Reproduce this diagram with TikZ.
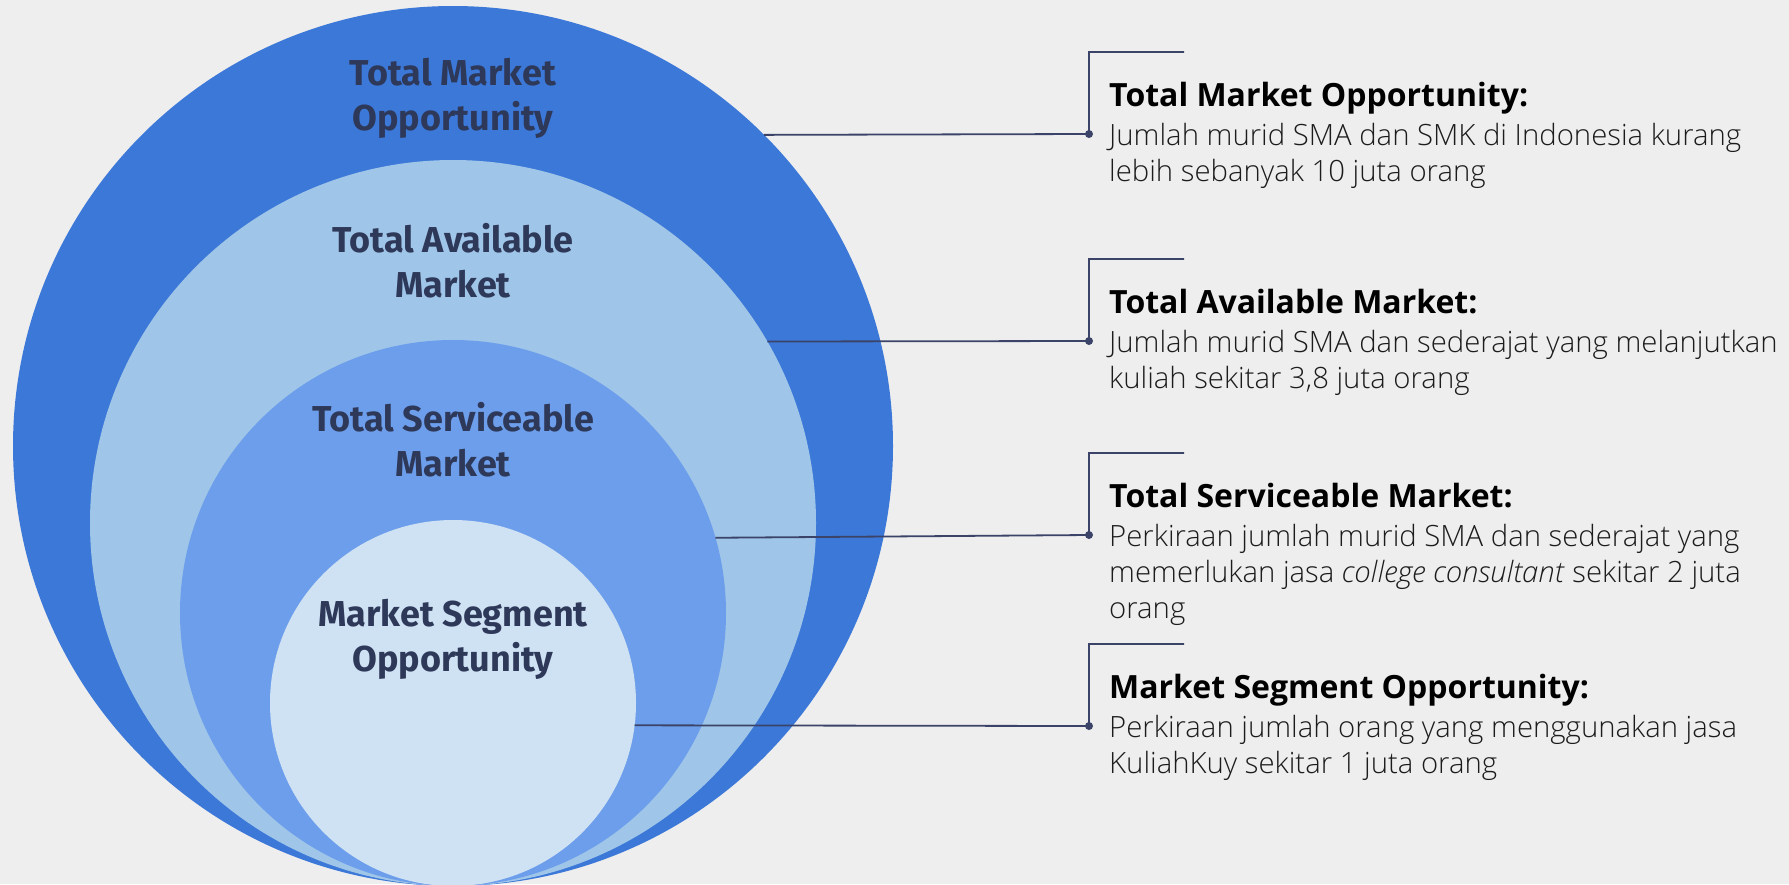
\documentclass[tikz,border=0pt]{standalone}
\usepackage{fontspec}
\setmainfont{Open Sans}
\newfontfamily\labfont{Fira Sans}
\newfontfamily\bodyfont{Open Sans Light}
\definecolor{bg}{HTML}{EEEEEE}
\definecolor{cA}{HTML}{3C78D8}
\definecolor{cB}{HTML}{9FC5E8}
\definecolor{cC}{HTML}{6D9EEB}
\definecolor{cD}{HTML}{CFE2F3}
\definecolor{navy}{HTML}{2E3859}
\definecolor{linec}{HTML}{3B4468}
\definecolor{bodyc}{HTML}{1C1C1C}
\tikzset{
  ring/.style={circle, inner sep=0pt, outer sep=0pt, draw=none},
  ringlabel/.style={anchor=base, text=navy, font=\labfont\bfseries\fontsize{36}{42}\selectfont, inner sep=0pt},
  conn/.style={draw=linec, line width=1.8pt},
  dotc/.style={circle, fill=linec, inner sep=0pt, minimum size=8pt},
  head/.style={anchor=base west, inner sep=0pt, text=black, font=\bfseries\fontsize{32}{38}\selectfont},
  body/.style={anchor=base west, inner sep=0pt, text=bodyc, font=\bodyfont\fontsize{29.3}{36}\selectfont},
}
\begin{document}
\begin{tikzpicture}[x=1pt,y=-1pt]
\fill[bg] (0,0) rectangle (1789,884);
\useasboundingbox (0,0) rectangle (1789,884);
% circles
\node[ring, fill=cA, minimum size=880pt] (c1) at (453,446) {};
\node[ring, fill=cB, minimum size=726pt] (c2) at (453,523) {};
\node[ring, fill=cC, minimum size=546pt] (c3) at (453,613) {};
\node[ring, fill=cD, minimum size=366pt] (c4) at (453,703) {};
% circle labels
\node[ringlabel] (l1a) at (453,85) {Total Market};
\node[ringlabel] (l1b) at (453,130) {Opportunity};
\node[ringlabel] (l2a) at (453,252) {Total Available};
\node[ringlabel] (l2b) at (453,297) {Market};
\node[ringlabel] (l3a) at (453,431) {Total Serviceable};
\node[ringlabel] (l3b) at (453,476) {Market};
\node[ringlabel] (l4a) at (453,626) {Market Segment};
\node[ringlabel] (l4b) at (453,671) {Opportunity};
% bracket coordinates
\coordinate (t1) at (1184,52);
\coordinate (t2) at (1184,259);
\coordinate (t3) at (1184,453);
\coordinate (t4) at (1184,644);
\node[dotc] (d1) at (1089,134) {};
\node[dotc] (d2) at (1089,341) {};
\node[dotc] (d3) at (1089,535) {};
\node[dotc] (d4) at (1089,726) {};
% connectors
\draw[conn] (c1.45.16) -- (d1.center) |- (t1);
\draw[conn] (c2.30.09) -- (d2.center) |- (t2);
\draw[conn] (c3.16.6) -- (d3.center) |- (t3);
\draw[conn] (c4.-7.22) -- (d4.center) |- (t4);
% texts
\node[head] (h1) at (1109,106) {Total Market Opportunity:};
\node[body] (b1a) at (1109,145) {Jumlah murid SMA dan SMK di Indonesia kurang};
\node[body] (b1b) at (1109,181) {lebih sebanyak 10 juta orang};
\node[head] (h2) at (1109,313) {Total Available Market:};
\node[body] (b2a) at (1109,352) {Jumlah murid SMA dan sederajat yang melanjutkan};
\node[body] (b2b) at (1109,388) {kuliah sekitar 3,8 juta orang};
\node[head] (h3) at (1109,507) {Total Serviceable Market:};
\node[body] (b3a) at (1109,546) {Perkiraan jumlah murid SMA dan sederajat yang};
\node[body] (b3b) at (1109,582) {memerlukan jasa \textit{college consultant} sekitar 2 juta};
\node[body] (b3c) at (1109,618) {orang};
\node[head] (h4) at (1109,698) {Market Segment Opportunity:};
\node[body] (b4a) at (1109,737) {Perkiraan jumlah orang yang menggunakan jasa};
\node[body] (b4b) at (1109,773) {KuliahKuy sekitar 1 juta orang};
\end{tikzpicture}
\end{document}
